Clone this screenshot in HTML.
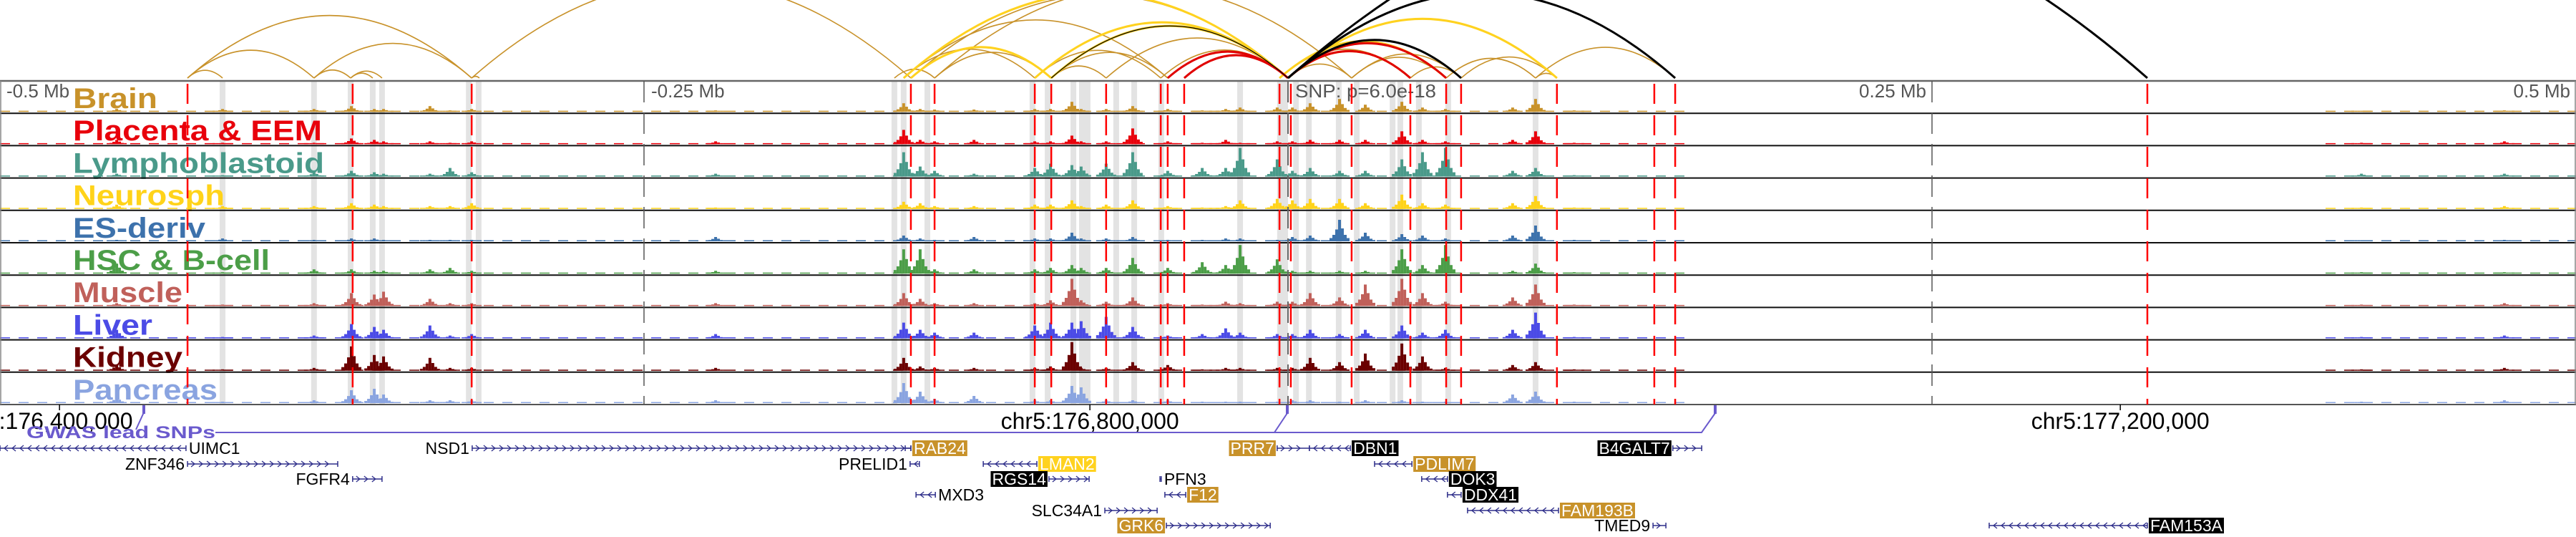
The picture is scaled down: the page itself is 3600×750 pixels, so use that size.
<!DOCTYPE html>
<html><head><meta charset="utf-8"><title>Locus plot</title>
<style>
html,body{margin:0;padding:0;background:#fff;}
svg{display:block;font-family:"Liberation Sans",sans-serif;}
</style></head>
<body>
<svg id="plot" xmlns="http://www.w3.org/2000/svg" width="3600" height="750" viewBox="0 0 3600 750">
  <g id="arcs"></g>
  <g id="bands"></g>
  <g id="labels"></g>
  <g id="signals"></g>
  <g id="frame"></g>
  <g id="vlines"></g>
  <g id="axis"></g>
  <g id="gwas"></g>
  <g id="genes"></g>
</svg>
<script>
// ---- data (genomic offsets in kb relative to lead SNP) ----
const trackNames = ["Brain","Placenta & EEM","Lymphoblastoid","Neurosph","ES-deriv","HSC & B-cell","Muscle","Liver","Kidney","Pancreas"];
const trackColors = ["#c8922a","#e8000b","#4a9a8a","#ffd31a","#3d72ac","#4c9e48","#c0605a","#4b4be6","#6b0000","#8aa4e0"];
const trackLabelWidths = [118,348,351,212,185,275,153,111,153,202];
const peakKb = [-454.7,-413.6,-378.1,-363.6,-354.7,-351.1,-333.1,-325.3,-316.9,-222.2,-149.2,-142.8,-137.2,-121.9,-98.3,-92.2,-83.9,-80.3,-70.6,-60.3,-46.7,-33.3,-24.2,-18.6,-4.2,1.7,8.6,20.0,30.0,44.2,52.2,61.1,87.2,96.1,111.1,416.7,472.2];
const brainVals = [.1,.1,.1,.2,.1,.1,.2,.05,.1,.05,.3,.1,.08,.08,.1,.1,.35,.1,.1,.2,.1,.05,.1,.15,.15,.15,.3,.45,.25,.35,.15,.1,.15,.45,.05,.03,.05];
const placentaVals = [.15,.05,.05,.2,.15,.1,.1,.05,.1,.1,.5,.15,.1,.15,.1,.1,.3,.1,.1,.55,.1,.05,.15,.05,.1,.1,.15,.15,.15,.45,.15,.1,.15,.45,.05,.05,.1];
const lymphoVals = [.1,.05,.15,.2,.15,.1,.1,.3,.15,.1,.85,.35,.2,.1,.3,.45,.4,.35,.45,.85,.2,.3,.3,1.0,.6,.2,.3,.2,.2,.6,.85,1.0,.2,.3,.05,.1,.1];
const neuroVals = [.15,.1,.1,.2,.15,.1,.1,.1,.2,.05,.25,.2,.1,.1,.15,.15,.3,.1,.15,.3,.1,.05,.1,.3,.35,.3,.35,.35,.2,.5,.2,.15,.2,.45,.05,.05,.1];
const esVals = [.05,.1,.05,.1,.1,.05,.05,.05,.05,.15,.2,.1,.05,.15,.1,.1,.3,.1,.1,.15,.05,.05,.1,.1,.05,.15,.2,.75,.3,.25,.2,.1,.2,.55,.05,.03,.05];
const hscVals = [.35,.05,.15,.15,.1,.1,.15,.2,.1,.1,.85,.85,.15,.15,.15,.2,.3,.2,.2,.55,.2,.4,.3,1.0,.5,.1,.1,.1,.1,.85,.3,1.0,.1,.35,.05,.05,.05];
const muscleVals = [.1,.05,.1,.45,.4,.5,.25,.1,.1,.1,.45,.25,.1,.1,.1,.2,.95,.2,.15,.3,.1,.05,.15,.1,.15,.15,.45,.3,.75,.95,.45,.15,.3,.75,.05,.05,.1];
const liverVals = [.3,.05,.1,.5,.4,.3,.45,.1,.15,.15,.55,.3,.2,.2,.45,.55,.55,.6,.75,.4,.1,.15,.35,.2,.15,.15,.3,.15,.3,.45,.2,.3,.3,.9,.05,.05,.1];
const kidneyVals = [.2,.05,.1,.85,.55,.5,.45,.1,.1,.1,.45,.15,.1,.1,.1,.15,1.0,.1,.1,.3,.2,.05,.1,.1,.1,.1,.45,.3,.6,.95,.5,.1,.2,.3,.05,.05,.1];
const pancreasVals = [.2,.05,.1,.45,.5,.3,.1,.1,.1,.1,.7,.4,.15,.25,.1,.1,.6,.55,.1,.1,.1,.05,.05,.05,.05,.1,.1,.05,.1,.1,.05,.05,.3,.4,.05,.05,.1];
const trackVals = [brainVals,placentaVals,lymphoVals,neuroVals,esVals,hscVals,muscleVals,liverVals,kidneyVals,pancreasVals];

const bandKb = [-413.6,-378.1,-363.9,-355.3,-351.7,-318.0,-314.2,-152.8,-149.2,-140.0,-99.2,-93.3,-83.3,-80.0,-77.8,-66.7,-59.7,-49.2,-18.6,-3.1,-1.1,3.1,8.1,19.7,26.7,40.6,43.6,50.8,62.2,96.1];
const redLineKb = [-427.2,-363.1,-316.9,-146.4,-137.2,-98.3,-91.9,-70.6,-49.4,-46.7,-40.3,-3.3,1.1,24.7,47.5,61.4,67.2,104.4,142.2,150.3,333.6];
const mbTickKb = [-500,-250,250,500];
const mbTickLabels = ["-0.5 Mb","-0.25 Mb","0.25 Mb","0.5 Mb"];
const chrTickKb = [-476.9,-76.9,323.1];
const chrTickLabels = ["5:176,400,000","chr5:176,800,000","chr5:177,200,000"];

const arcStart = [-427.2,-427.2,-427.2,-378.1,-378.1,-363.9,-363.9,-316.9,-316.9,-152.8,-149.2,-146.4,-137.2,-149.2,-98.3,-91.9,-91.9,-91.9,-70.6,-49.4,-46.7,-40.3,-98.3,-146.4,0,0,0,24.7,47.5,24.7,67.2,61.4,96.1,96.1,0,-137.2,-3.3,-3.3,0,
                  -149.2,-146.4,-91.9,-98.3,0,0,-3.3,
                  -46.7,-40.3,0,0,
                  0,0,-91.9,0];
const arcEnd =   [-413.6,-378.1,-316.9,-363.9,-316.9,-355.3,-351.7,-313.9,-146.4,-137.2,-98.3,-91.9,-91.9,-46.7,-49.4,-70.6,-46.7,0,0,0,0,0,0,0,24.7,47.5,61.4,67.2,67.2,61.4,104.4,96.1,104.4,150.3,104.4,24.7,47.5,61.4,67.2,
                  0,-91.9,0,0,104.4,47.5,61.4,
                  0,0,61.4,47.5,
                  333.6,150.3,0,67.2];
const arcColor = ["gold","gold","gold","gold","gold","gold","gold","gold","gold","gold","gold","gold","gold","gold","gold","gold","gold","gold","gold","gold","gold","gold","gold","gold","gold","gold","gold","gold","gold","gold","gold","gold","gold","gold","gold","gold","gold","gold","gold",
                  "yellow","yellow","yellow","yellow","yellow","yellow","yellow",
                  "red","red","red","red",
                  "black","black","thinblack","black"];

const geneNames = ["UIMC1","NSD1","RAB24","PRR7","DBN1","B4GALT7","ZNF346","PRELID1","LMAN2","PDLIM7","FGFR4","RGS14","PFN3","DOK3","MXD3","F12","DDX41","SLC34A1","FAM193B","GRK6","TMED9","FAM153A"];
const geneStart = [-500,-316.7,-148.6,-4.2,8.3,149.4,-427.2,-146.7,-118.3,33.6,-363.1,-92.8,-49.7,51.9,-144.4,-47.8,61.9,-71.1,69.7,-47.2,141.7,272.2];
const geneEnd =   [-427.8,-146.4,-146.4,8.3,24.2,160.6,-368.9,-143.1,-97.5,48.1,-351.7,-77.2,-49.2,61.9,-136.9,-39.7,67.2,-50.8,105.0,-6.9,146.7,333.6];
const geneRow = [0,0,0,0,0,0,1,1,1,1,2,2,2,2,3,3,3,4,4,5,5,5];
const geneStrand = ["-","+","-","+","-","+","+","-","-","-","+","+","+","-","-","-","-","+","-","+","+","-"];
const geneLabelSide = ["R","L","R","L","R","L","L","L","R","R","L","L","R","R","R","R","R","L","R","L","L","R"];
const geneLabelStyle = ["plain","plain","gold","gold","black","black","plain","plain","yellow","gold","plain","black","plain","black","plain","gold","black","plain","gold","gold","plain","black"];

// ---- layout ----
const NS = "http://www.w3.org/2000/svg";
const X0 = 1800, PXKB = 3.6;
const x = kb => X0 + kb * PXKB;
const TOP = 113, TH = 45.2, NT = 10, BOT = TOP + TH * NT;
function mk(tag, attrs, parent, text){
  const e = document.createElementNS(NS, tag);
  for (const k in attrs) e.setAttribute(k, attrs[k]);
  if (text !== undefined) e.textContent = text;
  parent.appendChild(e);
  return e;
}

// arcs
const arcG = document.getElementById("arcs");
const arcCol = {gold:"#c8922a", yellow:"#ffd21f", red:"#e00000", black:"#000", thinblack:"#000"};
const arcW = {gold:1.6, yellow:3, red:3, black:3, thinblack:1.2};
const AY = 109;
for (let i=0;i<arcStart.length;i++){
  const a = x(arcStart[i]), b = x(arcEnd[i]);
  const h = 0.22 * Math.abs(b-a);
  const p = mk("path",{d:`M${a},${AY} Q${(a+b)/2},${AY-2*h} ${b},${AY}`, fill:"none", stroke:arcCol[arcColor[i]], "stroke-width":arcW[arcColor[i]]}, arcG);
  
  
}

// bands
const bandG = document.getElementById("bands");
for (const kb of bandKb){
  const r = mk("rect",{x:x(kb)-4, y:TOP, width:8, height:BOT-TOP, fill:"#e3e3e3"}, bandG);
  
  
}

// track labels
const labG = document.getElementById("labels");
for (let t=0;t<NT;t++){
  const tx = mk("text",{x:102, y:TOP + TH*t + 38, "font-size":40, "font-weight":"bold", fill:trackColors[t], textLength:trackLabelWidths[t], lengthAdjust:"spacingAndGlyphs"}, labG, trackNames[t]);
  
  
}

// signals
const sigG = document.getElementById("signals");
const noiseSegs = [[0,2350],[3250,3600]];
for (let t=0;t<NT;t++){
  const base = TOP + TH*(t+1) - 2;
  const g = mk("g",{fill:trackColors[t]}, sigG);
  
  
  for (const [s,e] of noiseSegs){
    for (let px=s; px<e; px+=26){
      mk("rect",{x:px, y:base-1.5, width:14, height:1.5}, g);
    }
  }
  const vals = trackVals[t];
  for (let i=0;i<peakKb.length;i++){
    const cx = x(peakKb[i]), hv = vals[i]*40;
    const shape = [[-12,0.15],[-8,0.3],[-4,0.55],[0,1],[4,0.6],[8,0.3],[12,0.15]];
    for (const [dx,f] of shape){
      const h = Math.max(1.5, hv*f);
      const r = mk("rect",{x:cx+dx-2, y:base-h, width:4, height:h}, g);
      
      
    }
  }
}

// frame
const fr = document.getElementById("frame");
mk("line",{x1:0,y1:TOP,x2:3600,y2:TOP,stroke:"#666","stroke-width":2.5}, fr);
for (let t=1;t<=NT;t++){
  const y = TOP + TH*t;
  mk("line",{x1:0,y1:y,x2:3600,y2:y,stroke:t===NT?"#555":"#111","stroke-width":2}, fr);
}
mk("line",{x1:1,y1:TOP,x2:1,y2:BOT,stroke:"#888","stroke-width":1.5}, fr);
mk("line",{x1:3599,y1:TOP,x2:3599,y2:BOT,stroke:"#888","stroke-width":1.5}, fr);

// vertical lines
const vl = document.getElementById("vlines");
for (let i=0;i<mbTickKb.length;i++){
  const px = x(mbTickKb[i]);
  if (px>5 && px<3595){
    const l = mk("line",{x1:px,y1:TOP,x2:px,y2:BOT,stroke:"#555","stroke-width":1.5,"stroke-dasharray":"30 14"}, vl);
    
    
  }
  const anchorRight = i<2 ? false : true;
  const tx = mk("text",{x: i===0 ? 9 : (anchorRight ? px-8 : px+10), y:136, "font-size":26, fill:"#555", "text-anchor": anchorRight?"end":"start"}, vl, mbTickLabels[i]);
  
  
}
mk("line",{x1:X0,y1:TOP,x2:X0,y2:BOT,stroke:"#666","stroke-width":2,"stroke-dasharray":"30 14"}, vl);
const snpT = mk("text",{x:1810,y:136,"font-size":26,fill:"#555",textLength:197,lengthAdjust:"spacingAndGlyphs"}, vl, "SNP: p=6.0e-18");


for (const kb of redLineKb){
  const l = mk("line",{x1:x(kb),y1:AY,x2:x(kb),y2:BOT,stroke:"#f00","stroke-width":2.5,"stroke-dasharray":"28 16","stroke-dashoffset":-8}, vl);
  
  
}

// chr axis
const ax = document.getElementById("axis");
for (let i=0;i<chrTickKb.length;i++){
  const px = x(chrTickKb[i]);
  mk("line",{x1:px,y1:BOT,x2:px,y2:BOT+8,stroke:"#000","stroke-width":1.5}, ax);
  const tx = mk("text",{x:px, y:599, "font-size":32, fill:"#000", "text-anchor":"middle"}, ax, chrTickLabels[i]);
  
  
}

// GWAS track
const gw = document.getElementById("gwas");
const pur = "#6a5acd";
mk("polyline",{points:"301,604 1781,604 1799,577", fill:"none", stroke:pur, "stroke-width":2}, gw);
mk("polyline",{points:"1781,604 2378,604 2397,577", fill:"none", stroke:pur, "stroke-width":2}, gw);
mk("line",{x1:201,y1:576,x2:190,y2:600,stroke:pur,"stroke-width":2}, gw);
for (const px of [201,1799,2397]){
  const r = mk("rect",{x:px-2,y:566,width:4,height:12,fill:pur}, gw);
  
  
}
const gwT = mk("text",{x:37,y:612,"font-size":24,"font-weight":"bold",fill:pur,textLength:264,lengthAdjust:"spacingAndGlyphs"}, gw, "GWAS lead SNPs");



// genes
const gn = document.getElementById("genes");
const rowY = [626,648,669,691,713,734];
const gcol = "#2e2e8a";
const boxFill = {gold:"#c8922a", black:"#000", yellow:"#ffd21f"};
for (let i=0;i<geneNames.length;i++){
  const a = Math.max(0, x(geneStart[i])), b = x(geneEnd[i]);
  const y = rowY[geneRow[i]];
  const g = mk("g",{}, gn);
  
  
  mk("line",{x1:a,y1:y,x2:b,y2:y,stroke:gcol,"stroke-width":1.5}, g);
  mk("line",{x1:a,y1:y-4,x2:a,y2:y+4,stroke:gcol,"stroke-width":1.5}, g);
  mk("line",{x1:b,y1:y-4,x2:b,y2:y+4,stroke:gcol,"stroke-width":1.5}, g);
  const dir = geneStrand[i]==="+" ? 1 : -1;
  let d = "";
  for (let px=a+8; px<b-4; px+=11){
    d += `M${px-3*dir},${y-4} L${px+2*dir},${y} L${px-3*dir},${y+4} `;
  }
  if (d) mk("path",{d:d, fill:"none", stroke:gcol, "stroke-width":1.3}, g);
  const style = geneLabelStyle[i];
  const right = geneLabelSide[i]==="R";
  const tx = mk("text",{x: right ? b+4 : a-4, y:y+8, "font-size":23, fill: style==="plain" ? "#000" : "#fff", "text-anchor": right?"start":"end"}, g, geneNames[i]);
  
  
  if (style !== "plain"){
    const w = tx.getComputedTextLength();
    const rx = right ? b+2 : a-6-w;
    const r = mk("rect",{x:rx, y:y-11, width:w+4, height:22, fill:boxFill[style]}, g);
    g.insertBefore(r, tx);
  }
}
</script>
</body></html>
